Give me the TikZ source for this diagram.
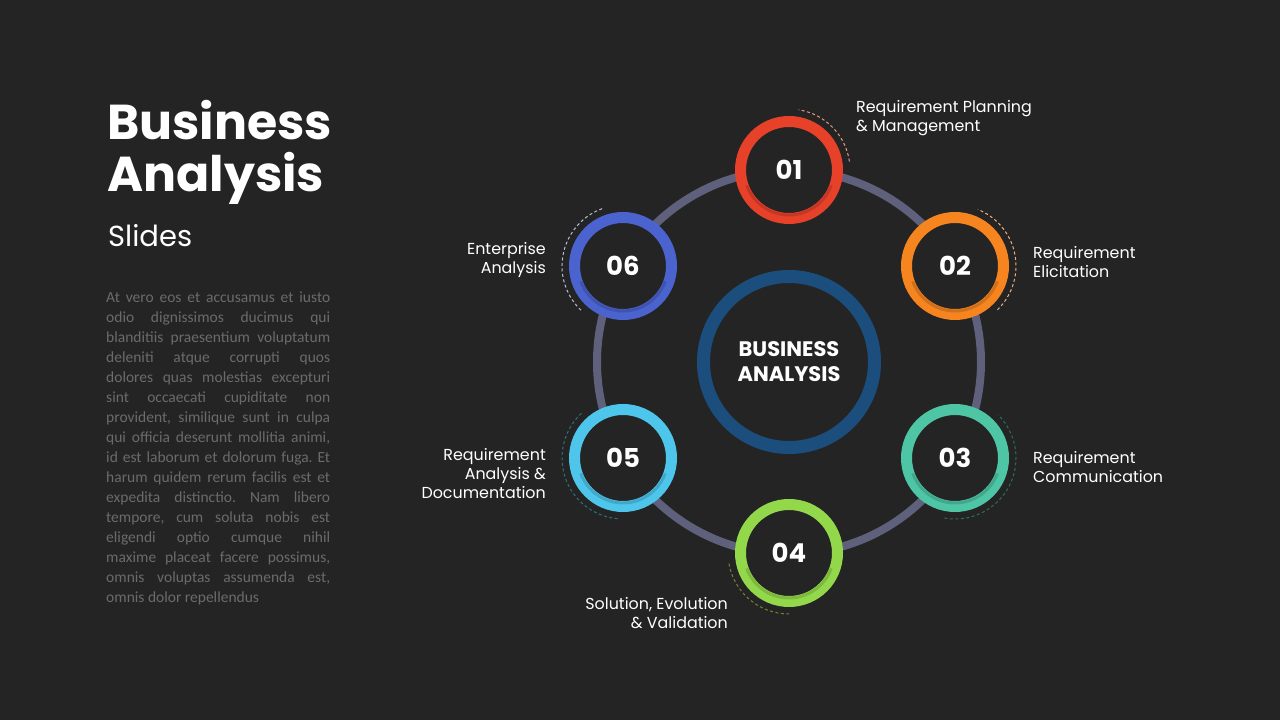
\documentclass[tikz,border=0pt]{standalone}
\usepackage{fontspec}
\setmainfont{Poppins}
\newfontfamily\bodyfont{Carlito}
\usetikzlibrary{positioning}
\frenchspacing

\definecolor{bgdark}{HTML}{242424}
\definecolor{trackgray}{HTML}{5E607C}
\definecolor{hubblue}{HTML}{1C4E7D}
\definecolor{bodygray}{HTML}{6B6B6B}
\definecolor{ringred}{HTML}{E8412A}
\definecolor{ringorange}{HTML}{F6841F}
\definecolor{ringteal}{HTML}{4EC6A6}
\definecolor{ringgreen}{HTML}{93D84A}
\definecolor{ringcyan}{HTML}{4EC6EC}
\definecolor{ringblue}{HTML}{4A63CF}
\definecolor{dashred}{HTML}{E59A85}
\definecolor{dashorange}{HTML}{EDB283}
\definecolor{dashteal}{HTML}{2F6E5B}
\definecolor{dashgreen}{HTML}{6E8634}
\definecolor{dashcyan}{HTML}{2E6F80}
\definecolor{dashblue}{HTML}{B8BDD6}

\begin{document}
\begin{tikzpicture}[
    x=1pt, y=1pt,
    stepring/.style={
        circle,
        draw=#1,
        line width=11pt,
        fill=bgdark,
        minimum size=97pt,
        inner sep=0pt,
        text=white,
        font=\fontsize{26}{30}\selectfont\bfseries
    },
    hubring/.style={
        circle,
        draw=hubblue,
        line width=13pt,
        minimum size=171pt,
        inner sep=0pt,
        text=white,
        align=center,
        font=\fontsize{21}{25}\selectfont\bfseries
    },
    dasharc/.style={
        draw=#1,
        line width=1pt,
        dash pattern=on 3pt off 2.5pt
    },
    ringshadow/.style={
        draw=#1!85!black,
        line width=3pt
    },
    lbl/.style={
        text=white,
        inner sep=0pt,
        font=\fontsize{15.9}{19}\selectfont
    }
]

% ---- Canvas ----
\fill[bgdark] (0,0) rectangle (1280,720);
\useasboundingbox (0,0) rectangle (1280,720);

% ---- Title block (left) ----
\node[anchor=base west, inner sep=0pt, text=white, font=\fontsize{49}{53}\selectfont\bfseries] (title1) at (107,580) {Business};
\node[anchor=base west, inner sep=0pt, text=white, font=\fontsize{49}{53}\selectfont\bfseries] (title2) at (107,528) {Analysis};
\node[anchor=base west, inner sep=0pt, text=white, font=\fontsize{29}{34}\selectfont] (subtitle) at (108,473) {Slides};

\node[anchor=north west, inner sep=0pt, text width=224pt, align=justify, text=bodygray,
      font=\bodyfont\fontsize{15.5}{20}\selectfont] (body) at (106,428.5)
{\hyphenpenalty=10000 At vero eos et accusamus et iusto\linebreak
 odio dignissimos ducimus qui\linebreak
 blanditiis praesentium voluptatum\linebreak
 deleniti atque corrupti quos\linebreak
 dolores quas molestias excepturi\linebreak
 sint occaecati cupiditate non\linebreak
 provident, similique sunt in culpa\linebreak
 qui officia deserunt mollitia animi,\linebreak
 id est laborum et dolorum fuga. Et\linebreak
 harum quidem rerum facilis est et\linebreak
 expedita distinctio. Nam libero\linebreak
 tempore, cum soluta nobis est\linebreak
 eligendi optio cumque nihil\linebreak
 maxime placeat facere possimus,\linebreak
 omnis voluptas assumenda est,\linebreak
 omnis dolor repellendus};

% ---- Track and hub ----
\coordinate (hub) at (789,358);
\draw[trackgray, line width=8pt] (hub) circle (192);
\node[hubring] (center) at (hub) {BUSINESS\\ANALYSIS};

% ---- Dashed arcs outside the steps ----
\draw[dasharc=dashred]    (789,550) ++(8:61)   arc[start angle=8,   end angle=81,  radius=61];
\draw[dasharc=dashorange] (955,454) ++(-46:61) arc[start angle=-46, end angle=68,  radius=61];
\draw[dasharc=dashteal]   (955,262) ++(-100:61) arc[start angle=-100, end angle=45, radius=61];
\draw[dasharc=dashgreen]  (789,167) ++(190:61) arc[start angle=190, end angle=270, radius=61];
\draw[dasharc=dashcyan]   (623,262) ++(133:61) arc[start angle=133, end angle=266, radius=61];
\draw[dasharc=dashblue]   (623,454) ++(110:61) arc[start angle=110, end angle=228, radius=61];

% ---- Steps ----
\node[stepring=ringred]    (s1) at (789,550) {01};
\node[stepring=ringorange] (s2) at (955,454) {02};
\node[stepring=ringteal]   (s3) at (955,262) {03};
\node[stepring=ringgreen]  (s4) at (789,167) {04};
\node[stepring=ringcyan]   (s5) at (623,262) {05};
\node[stepring=ringblue]   (s6) at (623,454) {06};

% inner shadow on each ring
\draw[ringshadow=ringred]    (s1.center) ++(200:45) arc[start angle=200, end angle=340, radius=45];
\draw[ringshadow=ringorange] (s2.center) ++(200:45) arc[start angle=200, end angle=340, radius=45];
\draw[ringshadow=ringteal]   (s3.center) ++(200:45) arc[start angle=200, end angle=340, radius=45];
\draw[ringshadow=ringgreen]  (s4.center) ++(200:45) arc[start angle=200, end angle=340, radius=45];
\draw[ringshadow=ringcyan]   (s5.center) ++(200:45) arc[start angle=200, end angle=340, radius=45];
\draw[ringshadow=ringblue]   (s6.center) ++(200:45) arc[start angle=200, end angle=340, radius=45];

% ---- Step labels ----
\node[lbl, anchor=west, align=left]  (l1) at (856,601.5) {Requirement Planning\\\& Management};
\node[lbl, anchor=west, align=left]  (l2) at (1033,457.5) {Requirement\\Elicitation};
\node[lbl, anchor=west, align=left]  (l3) at (1033,252.5) {Requirement\\Communication};
\node[lbl, anchor=east, align=right] (l4) at (728,106.5) {Solution, Evolution\\\& Validation};
\node[lbl, anchor=east, align=right] (l5) at (546,246) {Requirement\\Analysis \&\\Documentation};
\node[lbl, anchor=east, align=right] (l6) at (546,459.5) {Enterprise\\Analysis};

\end{tikzpicture}
\end{document}
